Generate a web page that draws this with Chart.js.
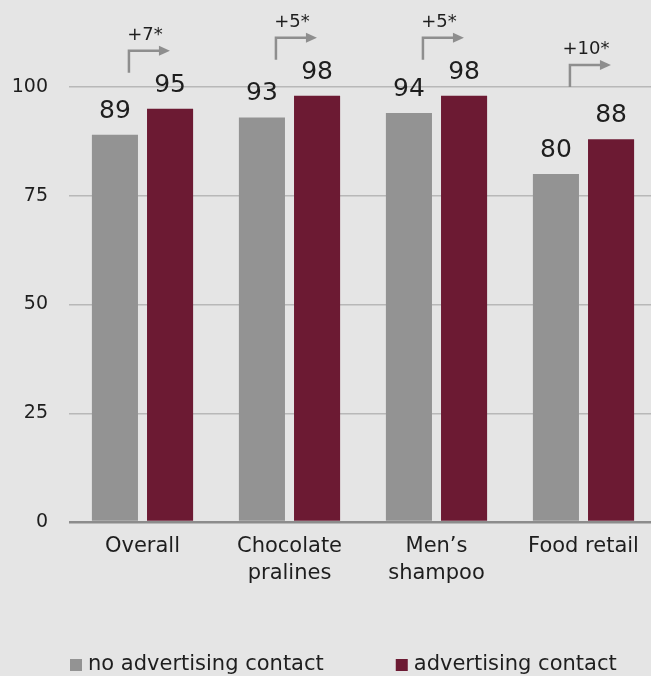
<!DOCTYPE html>
<html>
<head>
<meta charset="utf-8">
<script src="https://cdn.jsdelivr.net/npm/chart.js@4.4.1/dist/chart.umd.min.js"></script>
<style>
  html, body { margin: 0; padding: 0; background: #e5e5e5; overflow: hidden; }
  #wrap { width: 651px; height: 676px; overflow: hidden; position: relative; }
  canvas { display: block; }
</style>
</head>
<body>
<div id="wrap"><canvas id="c" width="657" height="676" style="width:657px;height:676px"></canvas></div>
<script>
// ---- data ----
const categories = [["Overall"], ["Chocolate", "pralines"], ["Men’s", "shampoo"], ["Food retail"]];
const seriesNames = ["no advertising contact", "advertising contact"];
const noContact = [89, 93, 94, 80];
const withContact = [95, 98, 98, 88];
const deltas = [7, 5, 5, 10];
const yTicks = [0, 25, 50, 75, 100];

const FONT = "'DejaVu Sans', sans-serif";
const TEXT = '#1e1e1e';
const ARROW = '#8e8e8e';

const labelsPlugin = {
  id: 'labelsAndArrows',
  afterDatasetsDraw(chart) {
    const ctx = chart.ctx;
    const y = chart.scales.y;
    ctx.save();
    // value labels
    ctx.font = '25px ' + FONT;
    ctx.fillStyle = TEXT;
    ctx.textAlign = 'center';
    ctx.textBaseline = 'alphabetic';
    chart.data.datasets.forEach((ds, di) => {
      chart.getDatasetMeta(di).data.forEach((bar, i) => {
        ctx.fillText(String(ds.data[i]), bar.x, bar.y - 17);
      });
    });
    // delta arrows
    const m0 = chart.getDatasetMeta(0).data;
    const m1 = chart.getDatasetMeta(1).data;
    deltas.forEach((d, i) => {
      const vx = m0[i].x + 14;
      const labelTop = m1[i].y - 36;
      const bottom = Math.min(labelTop, y.getPixelForValue(100));
      const top = bottom - 22;
      ctx.strokeStyle = ARROW;
      ctx.fillStyle = ARROW;
      ctx.lineWidth = 2.5;
      ctx.beginPath();
      ctx.moveTo(vx, bottom);
      ctx.lineTo(vx, top);
      ctx.lineTo(vx + 31, top);
      ctx.stroke();
      ctx.beginPath();
      ctx.moveTo(vx + 30, top - 5);
      ctx.lineTo(vx + 41, top);
      ctx.lineTo(vx + 30, top + 5);
      ctx.closePath();
      ctx.fill();
      ctx.fillStyle = TEXT;
      ctx.font = '18px ' + FONT;
      ctx.textAlign = 'center';
      ctx.fillText('+' + d + '*', vx + 16, top - 11);
    });
    ctx.restore();
  },
  afterDraw(chart) {
    // legend
    const ctx = chart.ctx;
    ctx.save();
    ctx.font = '21px ' + FONT;
    ctx.textBaseline = 'middle';
    ctx.textAlign = 'left';
    let x = 70;
    const cy = 665;
    chart.data.datasets.forEach((ds) => {
      ctx.fillStyle = ds.backgroundColor;
      ctx.fillRect(x, cy - 6, 12, 12);
      x += 18;
      ctx.fillStyle = TEXT;
      ctx.fillText(ds.label, x, cy);
      x += ctx.measureText(ds.label).width + 72;
    });
    ctx.restore();
  }
};

new Chart(document.getElementById('c'), {
  type: 'bar',
  data: {
    labels: categories,
    datasets: [
      { label: seriesNames[0], data: noContact, backgroundColor: '#939393', barPercentage: 0.836, categoryPercentage: 0.75 },
      { label: seriesNames[1], data: withContact, backgroundColor: '#6c1a33', barPercentage: 0.836, categoryPercentage: 0.75 }
    ]
  },
  options: {
    responsive: false,
    animation: false,
    events: [],
    layout: { padding: { top: 87, right: 0, bottom: 0, left: 0 } },
    plugins: { legend: { display: false }, tooltip: { enabled: false } },
    scales: {
      x: {
        grid: { display: false, drawTicks: false },
        border: { display: false },
        ticks: { color: TEXT, font: { family: FONT, size: 21, lineHeight: 1.3 }, padding: 11, maxRotation: 0, autoSkip: false },
        afterFit(s) { s.height = 154; }
      },
      y: {
        min: 0, max: 100,
        afterBuildTicks(s) { s.ticks = yTicks.map(v => ({ value: v })); },
        grid: {
          drawTicks: false,
          color: c => c.tick && c.tick.value === 0 ? '#8c8c8c' : '#b8b8b8',
          lineWidth: c => c.tick && c.tick.value === 0 ? 2.5 : 1.5
        },
        border: { display: false },
        ticks: { color: TEXT, font: { family: FONT, size: 19 }, padding: 21 },
        afterFit(s) { s.width = 69; }
      }
    }
  },
  plugins: [labelsPlugin]
});
</script>
</body>
</html>
